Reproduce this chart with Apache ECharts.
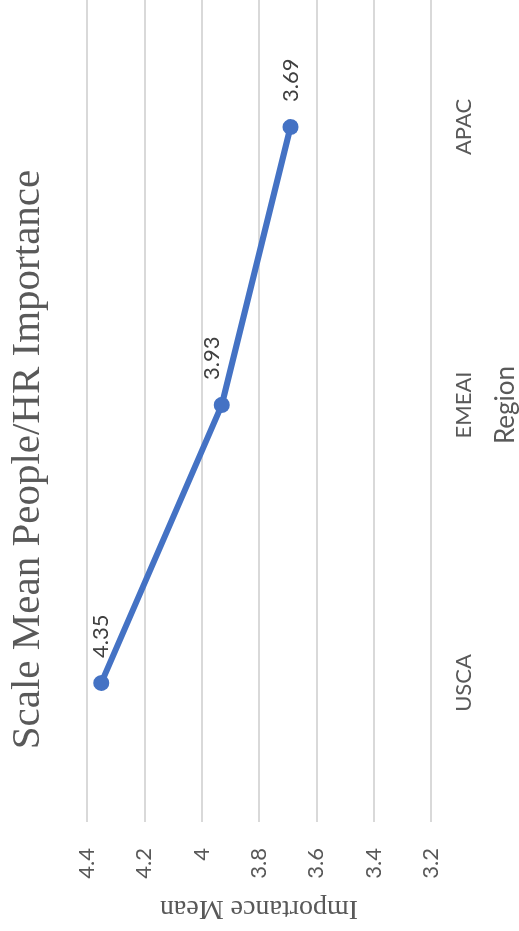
<!DOCTYPE html>
<html>
<head>
<meta charset="utf-8">
<script src="https://cdn.jsdelivr.net/npm/echarts@6/dist/echarts.min.js"></script>
<style>
html,body{margin:0;padding:0;width:519px;height:931px;overflow:hidden;background:#fff;}
#wrap{position:relative;width:519px;height:931px;overflow:hidden;}
#chart{position:absolute;left:0;top:0;width:943px;height:519px;transform-origin:0 0;transform:translate(0,931px) rotate(-90deg);}
</style>
</head>
<body>
<div id="wrap"><div id="chart"></div></div>
<script>
const categories = ['USCA', 'EMEAI', 'APAC'];
const meanValues = [4.35, 3.93, 3.69];
const titleText = 'Scale Mean People/HR Importance';
const xAxisTitle = 'Region';
const yAxisTitle = 'Importance Mean';

const chart = echarts.init(document.getElementById('chart'), null, {renderer: 'canvas', width: 943, height: 519});
const labelOffsets = [[0, 0], [0, -10], [0, 0]];
const baseLabel = {
  show: true,
  position: 'right',
  distance: 17,
  fontFamily: 'Lato',
  fontSize: 22,
  color: '#404040'
};
chart.setOption({
  backgroundColor: '#ffffff',
  animation: false,
  title: {
    text: titleText,
    left: 'center',
    top: 3,
    textStyle: {fontFamily: 'Liberation Serif', fontSize: 41, fontWeight: 'normal', color: '#595959'}
  },
  grid: {left: 109, right: 0, top: 87, bottom: 88, containLabel: false, outerBoundsMode: 'none'},
  xAxis: {
    type: 'category',
    data: categories,
    boundaryGap: true,
    name: xAxisTitle,
    nameLocation: 'middle',
    nameGap: 62,
    nameTextStyle: {fontFamily: 'Lato', fontSize: 26, color: '#595959'},
    axisLine: {show: false},
    axisTick: {show: false},
    axisLabel: {fontFamily: 'Lato', fontSize: 22, color: '#595959', margin: 22}
  },
  yAxis: {
    type: 'value',
    min: 3.2,
    max: 4.4,
    interval: 0.2,
    name: yAxisTitle,
    nameLocation: 'middle',
    nameRotate: 90,
    nameGap: 72,
    nameTextStyle: {fontFamily: 'Liberation Serif', fontSize: 28, color: '#595959'},
    axisLine: {show: false},
    axisTick: {show: false},
    axisLabel: {fontFamily: 'Lato', fontSize: 22, color: '#595959', margin: 26},
    splitLine: {show: true, lineStyle: {color: '#d9d9d9', width: 2}}
  },
  series: [{
    type: 'line',
    data: meanValues.map((v, i) => ({value: v, label: Object.assign({}, baseLabel, {offset: labelOffsets[i]})})),
    symbol: 'circle',
    symbolSize: 16,
    lineStyle: {color: '#4472C4', width: 6},
    itemStyle: {color: '#4472C4'},
    label: baseLabel
  }]
});
</script>
</body>
</html>
